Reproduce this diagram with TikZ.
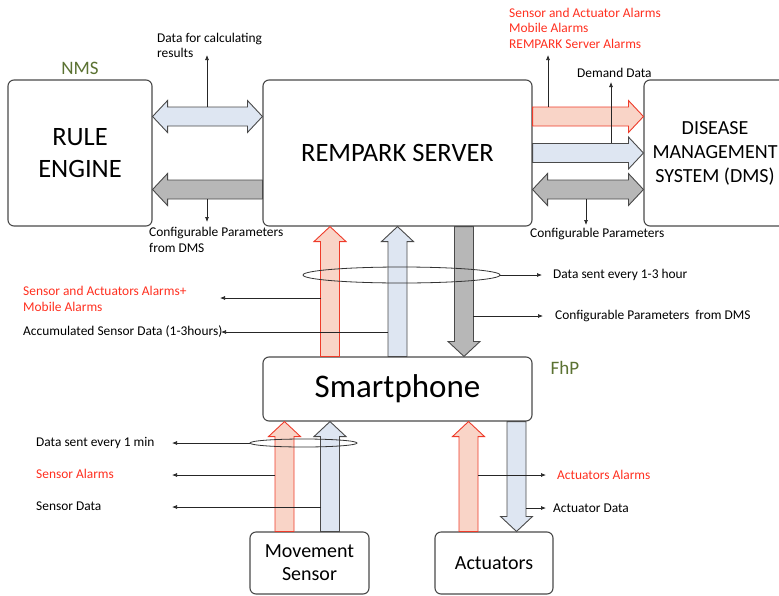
\documentclass[tikz,border=0pt]{standalone}
\usepackage{fontspec}
\setmainfont{Carlito}
\usetikzlibrary{arrows.meta,calc,positioning,shapes.geometric}
\definecolor{edgegray}{HTML}{4A4A4A}
\definecolor{paleblue}{HTML}{DEE6F2}
\definecolor{alarmfill}{HTML}{F9D4C7}
\definecolor{alarmedge}{HTML}{EE3B2A}
\definecolor{alarmtext}{HTML}{FF2F1F}
\definecolor{parmgray}{HTML}{B7B7B7}
\definecolor{labelgreen}{HTML}{5B7232}

% fat arrow: style, tail, tip
\newcommand\fatone[3]{%
  \coordinate (fa) at (#2); \coordinate (fb) at (#3);
  \coordinate (fh) at ($(fb)!15pt!(fa)$);
  \draw[#1] ($(fa)!9.5pt!90:(fb)$) -- ($(fh)!9.5pt!90:(fb)$) -- ($(fh)!16pt!90:(fb)$) -- (fb)
    -- ($(fh)!16pt!-90:(fb)$) -- ($(fh)!9.5pt!-90:(fb)$) -- ($(fa)!9.5pt!-90:(fb)$) -- cycle;}
% fat arrow with a head at both ends
\newcommand\fattwo[3]{%
  \coordinate (fa) at (#2); \coordinate (fb) at (#3);
  \coordinate (fh) at ($(fb)!15pt!(fa)$); \coordinate (ft) at ($(fa)!15pt!(fb)$);
  \draw[#1] (fa) -- ($(ft)!16pt!90:(fb)$) -- ($(ft)!9.5pt!90:(fb)$) -- ($(fh)!9.5pt!90:(fb)$)
    -- ($(fh)!16pt!90:(fb)$) -- (fb) -- ($(fh)!16pt!-90:(fb)$) -- ($(fh)!9.5pt!-90:(fb)$)
    -- ($(ft)!9.5pt!-90:(fb)$) -- ($(ft)!16pt!-90:(fb)$) -- cycle;}

\tikzset{
  box/.style={draw=edgegray, line width=1.1pt, rounded corners=6pt, fill=white, inner sep=0pt, align=center},
  alarm/.style={draw=alarmedge, fill=alarmfill, line width=0.9pt},
  data/.style={draw=edgegray, fill=paleblue, line width=0.9pt},
  parm/.style={draw=edgegray, fill=parmgray, line width=0.9pt},
  bundle/.style={draw=black!80, ellipse, line width=0.8pt, inner sep=0pt},
  note/.style={-{Latex[length=5pt,width=4pt]}, line width=0.7pt, black!85},
  lbl/.style={anchor=west, inner sep=0pt, align=left, font=\fontsize{13.4}{15.5}\selectfont},
  redlbl/.style={lbl, text=alarmtext},
  site/.style={text=labelgreen, inner sep=0pt, font=\fontsize{19}{22}\selectfont}
}

\begin{document}
\begin{tikzpicture}[x=1pt, y=-1pt]
\useasboundingbox (0,0) rectangle (779,595);
\clip (0,0) rectangle (779,595);

\node[box, minimum width=144, minimum height=146, font=\fontsize{26.5}{32}\selectfont] (rule) at (80,153) {RULE\\ENGINE};
\node[box, minimum width=269, minimum height=146, font=\fontsize{26.5}{32}\selectfont] (server) at (397.5,153) {REMPARK SERVER};
\node[box, minimum width=142, minimum height=146, font=\fontsize{20}{24}\selectfont] (dms) at (715,153) {DISEASE\\MANAGEMENT\\SYSTEM (DMS)};
\node[box, minimum width=269, minimum height=64, font=\fontsize{33}{36}\selectfont] (phone) at (397.5,389) {Smartphone};
\node[box, minimum width=119, minimum height=62, font=\fontsize{20}{23}\selectfont] (sensor) at (309.5,563) {Movement\\Sensor};
\node[box, minimum width=118, minimum height=62, font=\fontsize{20}{23}\selectfont] (actuators) at (494,563) {Actuators};

\node[site] (nms) at (80,68) {NMS};
\node[site] (fhp) at (565,368) {FhP};

\fattwo{data}{$(rule.east)+(0,-36.5)$}{$(server.west)+(0,-36.5)$}
\fatone{parm}{$(server.west)+(0,36.5)$}{$(rule.east)+(0,36.5)$}
\fatone{alarm}{$(server.east)+(0,-36.5)$}{$(dms.west)+(0,-36.5)$}
\fatone{data}{server.east}{dms.west}
\fattwo{parm}{$(server.east)+(0,36.5)$}{$(dms.west)+(0,36.5)$}
\fatone{alarm}{$(phone.north)+(-67.5,0)$}{$(server.south)+(-67.5,0)$}
\fatone{data}{phone.north}{server.south}
\fatone{parm}{$(server.south)+(66.5,0)$}{$(phone.north)+(66.5,0)$}
\fatone{alarm}{$(sensor.north)+(-25,0)$}{$(sensor.north |- phone.south)+(-25,0)$}
\fatone{data}{$(sensor.north)+(20.5,0)$}{$(sensor.north |- phone.south)+(20.5,0)$}
\fatone{alarm}{$(actuators.north)+(-25.5,0)$}{$(actuators.north |- phone.south)+(-25.5,0)$}
\fatone{data}{$(actuators.north |- phone.south)+(22.5,0)$}{$(actuators.north)+(22.5,0)$}

\node[bundle, minimum width=197, minimum height=16] (hourly) at (401.5,275) {};
\node[bundle, minimum width=107, minimum height=8] (minutely) at (303.5,443) {};

\foreach \n/\x/\y in {calcS/207/107, calcE/207/55, cfgS/207/199, cfgE/207/222,
  almS/548/107, almE/548/55, dmdS/611/143, dmdE/611/82, cpS/586/199, cpE/586/225,
  hrE/542/275, mobS/321/298, mobE/220/298, accS/388/332, accE/221/332,
  cdmS/473/316, cdmE/543/316, minE/172/443, salS/275/475, salE/172/475,
  sdS/321/507, sdE/172/507, aalS/478/475, aalE/546/475, adS/526/508, adE/546/508}
  \coordinate (\n) at (\x,\y);
\foreach \a/\b in {calcS/calcE, cfgS/cfgE, almS/almE, dmdS/dmdE, cpS/cpE, hourly.east/hrE,
  mobS/mobE, accS/accE, cdmS/cdmE, minutely.west/minE, salS/salE, sdS/sdE, aalS/aalE, adS/adE}
  \draw[note] (\a) -- (\b);

\node[lbl] (calcT) at (157,45.5) {Data for calculating\\results};
\node[lbl] (cfgT) at (149,240) {Configurable Parameters\\from DMS};
\node[redlbl] (almT) at (509,28) {Sensor and Actuator Alarms\\Mobile Alarms\\REMPARK Server Alarms};
\node[lbl] (dmdT) at (577,73) {Demand Data};
\node[lbl] (cpT) at (530,234) {Configurable Parameters};
\node[lbl] (hrT) at (553,275) {Data sent every 1-3 hour};
\node[lbl] (cdmT) at (555,316) {Configurable Parameters\ \ from DMS};
\node[redlbl] (mobT) at (23,299) {Sensor and Actuators Alarms+\\Mobile Alarms};
\node[lbl] (accT) at (23,332) {Accumulated Sensor Data (1-3hours)};
\node[lbl] (minT) at (36,443) {Data sent every 1 min};
\node[redlbl] (salT) at (36,474) {Sensor Alarms};
\node[lbl] (sdT) at (36,506) {Sensor Data};
\node[redlbl] (aalT) at (557,475) {Actuators Alarms};
\node[lbl] (adT) at (553,508) {Actuator Data};
\end{tikzpicture}
\end{document}
